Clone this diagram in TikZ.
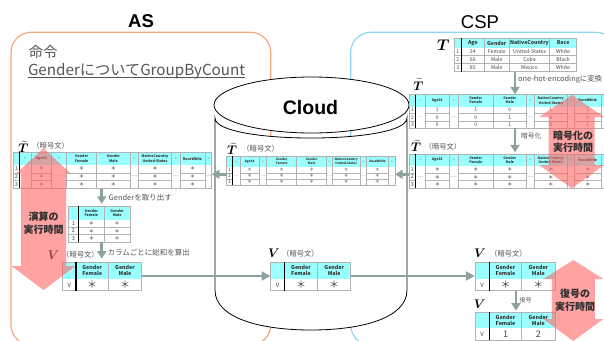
\RequirePackage{fix-cm}
\documentclass[tikz,border=0pt]{standalone}
\usepackage{fontspec}
\setmainfont{Noto Sans CJK JP}
\newfontfamily\lib{Liberation Sans}
\usepackage{bm}
\usetikzlibrary{arrows.meta,fit}

\definecolor{asc}{RGB}{248,168,128}
\definecolor{cspc}{RGB}{140,214,245}
\definecolor{hdrc}{RGB}{153,255,255}
\definecolor{gridc}{RGB}{178,178,178}
\definecolor{arrc}{RGB}{140,162,160}
\definecolor{pinkc}{RGB}{255,100,100}
\definecolor{txtg}{RGB}{85,85,85}
\definecolor{celltxt}{RGB}{70,70,70}

% table: #1 top y, #2 header bottom y, #3 row height, #4 number of rows, #5 column specs
\newcommand\tbl[5]{%
  \foreach \xa/\xb/\ty/\hd/\rd in {#5}{%
    \fill[hdrc] (\xa,#1) rectangle (\xb,#2);
    \node[htx] at ({(\xa+\xb)/2},{(#1+#2)/2}) {\hd};
    \ifnum\ty=1
      \node[ctx] at ({(\xa+\xb)/2},{#2+#4*#3/2}) {…};
    \else
      \foreach \cv [count=\ci] in \rd {%
        \node[ctx] at ({(\xa+\xb)/2},{#2+(\ci-0.5)*#3}) {\cv};
        \ifnum\ci<#4 \draw[gridln] (\xa,{#2+\ci*#3}) -- (\xb,{#2+\ci*#3});\fi
      }%
    \fi
    \draw[gridln] (\xa,#1) rectangle (\xb,{#2+#4*#3});
  }%
}
\newcommand\ix[1]{{\fontsize{6}{6}\selectfont #1}}
% double arrow: #1 cx, #2 top tip, #3 top base, #4 bottom base, #5 bottom tip, #6 top head half, #7 shaft half, #8 bottom head half
\newcommand\dbl[8]{%
  \fill[pinkc, fill opacity=0.6] (#1,#2) -- ({#1+#6},#3) -- ({#1+#7},#3) -- ({#1+#7},#4) -- ({#1+#8},#4) -- (#1,#5)
    -- ({#1-#8},#4) -- ({#1-#7},#4) -- ({#1-#7},#3) -- ({#1-#6},#3) -- cycle;
}

\begin{document}
\begin{tikzpicture}[x=1pt,y=-1pt,
  gridln/.style={draw=gridc, line width=0.5pt},
  thk/.style={draw=black, line width=1.1pt},
  garr/.style={draw=arrc, line width=2.6pt, -{Triangle[length=7.5pt,width=9pt]}},
  garrh/.style={draw=arrc, line width=2pt, -{Triangle[length=9pt,width=9pt]}},
  albl/.style={inner sep=0, text=txtg, anchor=west},
  lbl/.style={inner sep=0, text=txtg, anchor=west, font=\fontsize{7.3}{8}\selectfont},
  big/.style={inner sep=0, font=\fontsize{12.5}{13}\selectfont},
  pinktxt/.style={inner sep=0, align=center, text={rgb,255:red,45;green,45;blue,45}, font=\fontsize{10}{12.5}\selectfont\bfseries},
  fitbox/.style={inner sep=0, draw=none}
]
\useasboundingbox (0,0) rectangle (604,340);
\clip (0,0) rectangle (604,340);

% frames
\draw[asc, line width=1.2pt, rounded corners=20pt] (11,32.3) rectangle (270.7,345);
\draw[cspc, line width=1.2pt, rounded corners=20pt] (350.7,32.3) rectangle (616,345);

\node[font=\lib\bfseries\fontsize{18.5}{20}\selectfont] (tAS) at (141,20.7) {AS};
\node[font=\lib\fontsize{18.5}{20}\selectfont] (tCSP) at (480,21.7) {CSP};

% command text
\node[anchor=west, inner sep=0, text=txtg, font=\fontsize{14.5}{15}\selectfont] (cmd1) at (28.5,51.7) {命令};
\node[anchor=west, inner sep=0, text=txtg, font=\fontsize{15.2}{16}\selectfont] (cmd2) at (27.8,71) {GenderについてGroupByCount};
\draw[txtg, line width=0.7pt] ([yshift=-2.5pt]cmd2.base west) -- ([yshift=-2.5pt]cmd2.base east);

% cloud cylinder
\filldraw[fill=white, draw=black, line width=0.8pt] (215,118) .. controls (215,144.7) and (407,144.7) .. (407,118)
  -- (407,290) .. controls (407,318) and (362,330) .. (311,330) .. controls (260,330) and (215,318) .. (215,290) -- cycle;
\filldraw[fill=white, draw=black, line width=0.8pt] (311.5,105) ellipse [x radius=97.5, y radius=28];
\node[font=\lib\bfseries\fontsize{19.5}{20}\selectfont] (cloud) at (310.5,108) {Cloud};

% ---------- Table A (CSP, plaintext T)
\begin{scope}[htx/.style={inner sep=0, align=center, text=black!80, font=\fontsize{5.2}{5.8}\selectfont\bfseries},
              ctx/.style={inner sep=0, text=celltxt, font=\fontsize{5.2}{5.8}\selectfont}]
\tbl{38.3}{47.7}{8}{3}{454/461.7/0/{}/{1,2,3}, 461.7/484/0/Age/{34,66,85}, 484/509.5/0/Gender/{Female,Male,Male},
  509.5/549.5/0/NativeCountry/{United-States,Cuba,Mexico}, 549.5/576.7/0/Race/{White,Black,White}}
\draw[thk] (461.7,38.3) -- (461.7,71.7);
\end{scope}
\node[fitbox, fit={(454,38.3) (576.7,71.7)}] (tA) {};
\node[inner sep=0, font=\fontsize{15.5}{16}\selectfont] (lA) at (443.3,45.3) {$\bm{T}$};

% ---------- Table B (CSP, one-hot plaintext)
\begin{scope}[htx/.style={inner sep=0, align=center, text=black!80, font=\fontsize{3.5}{4.2}\selectfont\bfseries},
              ctx/.style={inner sep=0, text=celltxt, font=\fontsize{5}{5.5}\selectfont}]
\tbl{94.5}{106.5}{7.2}{3}{409.5/415.5/0/{}/{1,2,3}, 415.5/425.5/1/–/{}, 425.5/449/0/Age34/{1,0,0}, 449/458.5/1/–/{},
  458.5/493/0/{Gender\\Female}/{1,0,0}, 493/526.7/0/{Gender\\Male}/{0,1,1}, 526.7/534/1/–/{},
  534/567.5/0/{NativeCountry\\United-States}/{1,0,0}, 567.5/574.5/1/–/{}, 574.5/601/0/RaceWhite/{1,0,1}, 601/612/1/–/{}}
\draw[thk] (415.5,94.5) -- (415.5,128.1);
\end{scope}
\node[fitbox, fit={(409.5,94.5) (612,128.1)}] (tB) {};
\node[big] (lB) at (418.3,84.5) {$\widetilde{\bm{T}}$};

% ---------- Table C (CSP, encrypted)
\begin{scope}[htx/.style={inner sep=0, align=center, text=black!80, font=\fontsize{3.5}{4.2}\selectfont\bfseries},
              ctx/.style={inner sep=0, text=celltxt, font=\fontsize{5.5}{6}\selectfont}]
\tbl{154}{166}{7.33}{3}{409.5/415.5/0/{}/{1,2,3}, 415.5/425.5/1/–/{}, 425.5/449/0/Age34/{＊,＊,＊}, 449/458.5/1/–/{},
  458.5/493/0/{Gender\\Female}/{＊,＊,＊}, 493/526.7/0/{Gender\\Male}/{＊,＊,＊}, 526.7/534/1/–/{},
  534/567.5/0/{NativeCountry\\United-States}/{＊,＊,＊}, 567.5/574.5/1/–/{}, 574.5/601/0/RaceWhite/{＊,＊,＊}, 601/612/1/–/{}}
\draw[thk] (415.5,154) -- (415.5,188);
\end{scope}
\node[fitbox, fit={(409.5,154) (612,188)}] (tC) {};
\node[big] (lC) at (416,145.8) {$\widetilde{\bm{T}}$};
\node[lbl] (lC2) at (424.5,146.7) {（暗号文）};

% ---------- Table D (Cloud, encrypted)
\begin{scope}[htx/.style={inner sep=0, align=center, text=black!80, font=\fontsize{3.1}{3.7}\selectfont\bfseries},
              ctx/.style={inner sep=0, text=celltxt, font=\fontsize{4.6}{5}\selectfont}]
\tbl{156}{167}{6}{3}{226.7/232.3/0/{}/{1,2,3}, 232.3/240/1/–/{}, 240/259.3/0/Age34/{＊,＊,＊}, 259.3/266.7/1/–/{},
  266.7/296.7/0/{Gender\\Female}/{＊,＊,＊}, 296.7/326.7/0/{Gender\\Male}/{＊,＊,＊}, 326.7/332.3/1/–/{},
  332.3/360/0/{NativeCountry\\United-States}/{＊,＊,＊}, 360/366.7/1/–/{}, 366.7/388.3/0/RaceWhite/{＊,＊,＊}, 388.3/395/1/–/{}}
\draw[thk] (232.3,156) -- (232.3,185);
\end{scope}
\node[fitbox, fit={(226.7,156) (395,185)}] (tD) {};
\node[big] (lD) at (232.2,148.7) {$\widetilde{\bm{T}}$};
\node[lbl] (lD2) at (242.2,148.3) {（暗号文）};

% ---------- Table E (AS, encrypted)
\begin{scope}[htx/.style={inner sep=0, align=center, text=black!80, font=\fontsize{3.6}{4.3}\selectfont\bfseries},
              ctx/.style={inner sep=0, text=celltxt, font=\fontsize{5.5}{6}\selectfont}]
\tbl{152.3}{165}{7.77}{3}{13.3/19.3/0/{}/{1,2,3}, 19.3/31/1/–/{}, 31/51.7/0/Age34/{＊,＊,＊}, 51.7/66.7/1/–/{},
  66.7/96.7/0/{Gender\\Female}/{＊,＊,＊}, 96.7/130/0/{Gender\\Male}/{＊,＊,＊}, 130/138.3/1/–/{},
  138.3/171.7/0/{NativeCountry\\United-States}/{＊,＊,＊}, 171.7/180/1/–/{}, 180/205/0/RaceWhite/{＊,＊,＊}, 205/211.7/1/–/{}}
\draw[thk] (19.3,152.3) -- (19.3,188.3);
\end{scope}
\node[fitbox, fit={(13.3,152.3) (211.7,188.3)}] (tE) {};
\node[big] (lE) at (23.3,146.7) {$\widetilde{\bm{T}}$};
\node[lbl] (lE2) at (32.2,146) {（暗号文）};

% ---------- Table F (AS, Gender columns)
\begin{scope}[htx/.style={inner sep=0, align=center, text=black!80, font=\fontsize{3.6}{4.3}\selectfont\bfseries},
              ctx/.style={inner sep=0, text=celltxt, font=\fontsize{5.5}{6}\selectfont}]
\tbl{206}{220}{7.33}{3}{68.3/78.3/0/{}/{1,2,3}, 78.3/104.3/0/{Gender\\Female}/{＊,＊,＊}, 104.3/130/0/{Gender\\Male}/{＊,＊,＊}}
\draw[thk] (78.3,206) -- (78.3,242);
\end{scope}
\node[fitbox, fit={(68.3,206) (130,242)}] (tF) {};

% ---------- Tables G, H, I, J (V)
\begin{scope}[htx/.style={inner sep=0, align=center, text=black!80, font=\fontsize{5.3}{6.3}\selectfont\bfseries},
              ctx/.style={inner sep=0, text=celltxt, font=\fontsize{10}{10}\selectfont}]
\tbl{262.3}{279}{11.7}{1}{62.7/76/0/{}/{\ix{V}}, 76/108.3/0/{Gender\\Female}/{＊}, 108.3/141.7/0/{Gender\\Male}/{＊}}
\draw[thk] (76,262.3) -- (76,290.7);
\tbl{262.3}{279}{11.7}{1}{270.7/284.3/0/{}/{\ix{V}}, 284.3/317.7/0/{Gender\\Female}/{＊}, 317.7/350.7/0/{Gender\\Male}/{＊}}
\draw[thk] (284.3,262.3) -- (284.3,290.7);
\tbl{262.3}{279}{11.7}{1}{475/489.3/0/{}/{\ix{V}}, 489.3/521.7/0/{Gender\\Female}/{＊}, 521.7/555/0/{Gender\\Male}/{＊}}
\draw[thk] (489.3,262.3) -- (489.3,290.7);
\end{scope}
\begin{scope}[htx/.style={inner sep=0, align=center, text=black!80, font=\fontsize{5.3}{6.3}\selectfont\bfseries},
              ctx/.style={inner sep=0, text=celltxt, font=\fontsize{9}{9}\selectfont}]
\tbl{312.3}{328.3}{12}{1}{475/489.3/0/{}/{\ix{V}}, 489.3/521.7/0/{Gender\\Female}/{1}, 521.7/555/0/{Gender\\Male}/{2}}
\draw[thk] (489.3,312.3) -- (489.3,340.3);
\end{scope}
\node[fitbox, fit={(62.7,262.3) (141.7,290.7)}] (tG) {};
\node[fitbox, fit={(270.7,262.3) (350.7,290.7)}] (tH) {};
\node[fitbox, fit={(475,262.3) (555,290.7)}] (tI) {};
\node[fitbox, fit={(475,312.3) (555,340.3)}] (tJ) {};
\node[big] (lG) at (53.5,255) {$\bm{V}$};
\node[lbl] (lG2) at (62,255) {（暗号文）};
\node[big] (lH) at (274,253.5) {$\bm{V}$};
\node[lbl] (lH2) at (282,254) {（暗号文）};
\node[big] (lI) at (480,253.5) {$\bm{V}$};
\node[lbl] (lI2) at (490,254) {（暗号文）};
\node[big] (lJ) at (479.7,304.2) {$\bm{V}$};

% ---------- connectors
\coordinate (x1) at (515,0);
\coordinate (x2) at (101.7,0);
\coordinate (x3) at (516,0);
\coordinate (y1) at (0,174.3);
\coordinate (y2) at (0,276);
\draw[garr] (tA.south -| x1) -- (tB.north -| x1);
\draw[garr, shorten >=1.5pt] (tB.south -| x1) -- (tC.north -| x1);
\draw[garr] (tC.west |- y1) -- (tD.east |- y1);
\draw[garr] (tD.west |- y1) -- (tE.east |- y1);
\draw[garr, shorten >=2pt] (tE.south -| x2) -- (tF.north -| x2);
\draw[garr, shorten >=3.5pt] (tF.south -| x2) -- (tG.north -| x2);
\draw[garrh] (tG.east |- y2) -- (tH.west |- y2);
\draw[garrh] (tH.east |- y2) -- (tI.west |- y2);
\draw[garr, shorten >=1.5pt] (tI.south -| x3) -- (tJ.north -| x3);

\node[albl, font=\fontsize{7.4}{8}\selectfont] (a1) at (518,79.5) {one-hot-encodingに変換};
\node[albl, font=\fontsize{6.7}{7}\selectfont] (a2) at (521,135.5) {暗号化};
\node[albl, font=\fontsize{7.5}{8}\selectfont] (a3) at (108.5,197.3) {Genderを取り出す};
\node[albl, font=\fontsize{7.5}{8}\selectfont] (a4) at (107.5,252.7) {カラムごとに総和を算出};
\node[albl, font=\fontsize{6}{6.5}\selectfont] (a5) at (519.5,300) {復号};

% ---------- execution-time arrows
\dbl{43.5}{148.3}{173.3}{266}{290}{27}{22.5}{32}
\dbl{571.7}{95}{117}{165}{188.3}{32.5}{23}{32.5}
\dbl{573.3}{260}{279}{319}{341}{30}{21.5}{30}
\node[pinktxt] (p1) at (43.5,223) {演算の\\実行時間};
\node[pinktxt] (p2) at (573,141.5) {暗号化の\\実行時間};
\node[pinktxt] (p3) at (575,300) {復号の\\実行時間};
\end{tikzpicture}
\end{document}
